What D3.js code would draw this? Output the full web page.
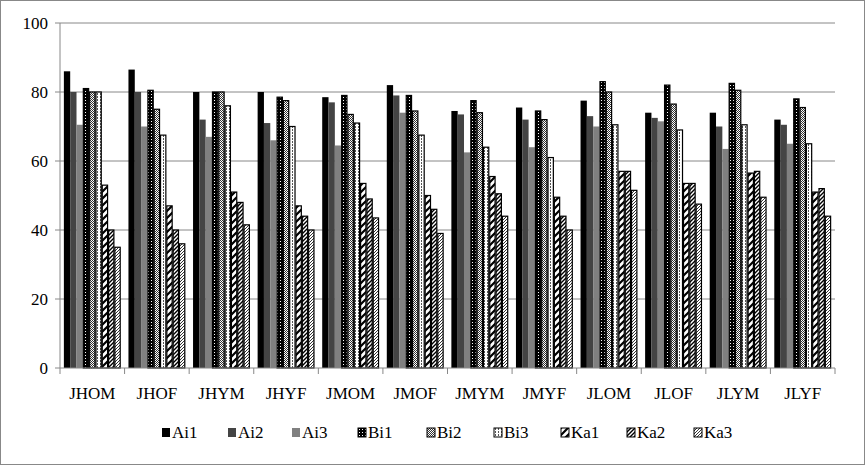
<!DOCTYPE html>
<html><head><meta charset="utf-8">
<script src="https://cdn.jsdelivr.net/npm/d3@7"></script>
<style>body{margin:0;background:#fff}text{font-family:"Liberation Serif","Times New Roman",serif}</style>
</head><body><svg id="c" width="865" height="465"></svg>
<script>
const categories = ["JHOM","JHOF","JHYM","JHYF","JMOM","JMOF","JMYM","JMYF","JLOM","JLOF","JLYM","JLYF"];
const seriesNames = ["Ai1","Ai2","Ai3","Bi1","Bi2","Bi3","Ka1","Ka2","Ka3"];
const Ai1 = [86,86.5,80,80,78.5,82,74.5,75.5,77.5,74,74,72];
const Ai2 = [80,80,72,71,77,79,73.5,72,73,72.5,70,70.5];
const Ai3 = [70.5,70,67,66,64.5,74,62.5,64,70,71.5,63.5,65];
const Bi1 = [81,80.5,80,78.5,79,79,77.5,74.5,83,82,82.5,78];
const Bi2 = [80,75,80,77.5,73.5,74.5,74,72,80,76.5,80.5,75.5];
const Bi3 = [80,67.5,76,70,71,67.5,64,61,70.5,69,70.5,65];
const Ka1 = [53,47,51,47,53.5,50,55.5,49.5,57,53.5,56.5,51];
const Ka2 = [40,40,48,44,49,46,50.5,44,57,53.5,57,52];
const Ka3 = [35,36,41.5,40,43.5,39,44,40,51.5,47.5,49.5,44];
const values = [Ai1,Ai2,Ai3,Bi1,Bi2,Bi3,Ka1,Ka2,Ka3];
const yTicks = [0,20,40,60,80,100];

const svg = d3.select("#c");
svg.append("rect").attr("x",0.5).attr("y",0.5).attr("width",864).attr("height",464).attr("fill","#fff").attr("stroke","#888");
const defs = svg.append("defs");
function pat(id, size, draw){
  const p = defs.append("pattern").attr("id",id).attr("patternUnits","userSpaceOnUse").attr("width",size).attr("height",size);
  draw(p);
}
pat("bi1",3,p=>{p.append("rect").attr("width",3).attr("height",3).attr("fill","#000");p.append("rect").attr("x",1).attr("y",1).attr("width",1).attr("height",1).attr("fill","#fff");});
pat("bi2",2,p=>{p.append("rect").attr("width",2).attr("height",2).attr("fill","#fff");p.append("rect").attr("width",1).attr("height",1).attr("fill","#333");p.append("rect").attr("x",1).attr("y",1).attr("width",1).attr("height",1).attr("fill","#333");});
pat("bi3",3,p=>{p.append("rect").attr("width",3).attr("height",3).attr("fill","#fff");p.append("rect").attr("x",1).attr("width",1).attr("height",2).attr("fill","#555");});
const diag=(id,size,w,bg)=>pat(id,size,p=>{p.append("rect").attr("width",size).attr("height",size).attr("fill",bg);
  p.append("path").attr("d",`M0,${size}L${size},0M-1,1L1,-1M${size-1},${size+1}L${size+1},${size-1}`).attr("stroke","#000").attr("stroke-width",w);});
diag("ka1",7,2.2,"#fff"); diag("ka2",4,1.4,"#fff"); diag("ka3",3,0.8,"#fff");
const fills = ["#000","#444","#808080","url(#bi1)","url(#bi2)","url(#bi3)","url(#ka1)","url(#ka2)","url(#ka3)"];
const strokes = [null,null,null,"#000","#000","#000","#000","#000","#000"];

const L=60,R=835,T=23,B=368;
const x0 = d3.scaleBand().domain(categories).range([L,R]).paddingInner(0.12).paddingOuter(0.06);
const x1 = d3.scaleBand().domain(seriesNames).range([0,x0.bandwidth()]);
const y = d3.scaleLinear().domain([0,100]).range([B,T]);

svg.append("g").selectAll("line").data(yTicks.slice(1)).join("line")
  .attr("x1",L).attr("x2",R).attr("y1",d=>y(d)).attr("y2",d=>y(d)).attr("stroke","#888");
svg.append("line").attr("x1",L).attr("x2",L).attr("y1",T).attr("y2",B).attr("stroke","#888");
svg.append("g").selectAll("text").data(yTicks).join("text")
  .attr("x",L-12).attr("y",d=>y(d)+6).attr("text-anchor","end").attr("font-size",17).text(d=>d);
svg.append("g").selectAll("line").data(yTicks).join("line")
  .attr("x1",L-5).attr("x2",L).attr("y1",d=>y(d)).attr("y2",d=>y(d)).attr("stroke","#888");

seriesNames.forEach((s,si)=>{
  svg.append("g").selectAll("rect").data(values[si]).join("rect")
    .attr("x",(d,i)=>x0(categories[i])+x1(s)+(strokes[si]?0.5:0))
    .attr("width",x1.bandwidth()-(strokes[si]?1:0))
    .attr("y",d=>y(d)).attr("height",d=>B-y(d))
    .attr("fill",fills[si]).attr("stroke",strokes[si]).attr("stroke-width",1.2);
});
svg.append("line").attr("x1",L).attr("x2",R).attr("y1",B).attr("y2",B).attr("stroke","#888");
const step = (R-L)/categories.length;
svg.append("g").selectAll("line").data(d3.range(categories.length+1)).join("line")
  .attr("x1",i=>L+i*step).attr("x2",i=>L+i*step).attr("y1",B).attr("y2",B+6).attr("stroke","#888");
svg.append("g").selectAll("text").data(categories).join("text")
  .attr("x",(d,i)=>L+(i+0.5)*step).attr("y",B+31).attr("text-anchor","middle").attr("font-size",17).text(d=>d);

const lx=[162,228,292,358,427,494,561,627,694];
const lg = svg.append("g").selectAll("g").data(seriesNames).join("g").attr("transform",(d,i)=>`translate(${lx[i]},428)`);
lg.append("rect").attr("x",0).attr("y",0).attr("width",8).attr("height",9).attr("fill",(d,i)=>fills[i]).attr("stroke",(d,i)=>strokes[i]);
lg.append("text").attr("x",10).attr("y",10).attr("font-size",17).text(d=>d);
</script></body></html>
